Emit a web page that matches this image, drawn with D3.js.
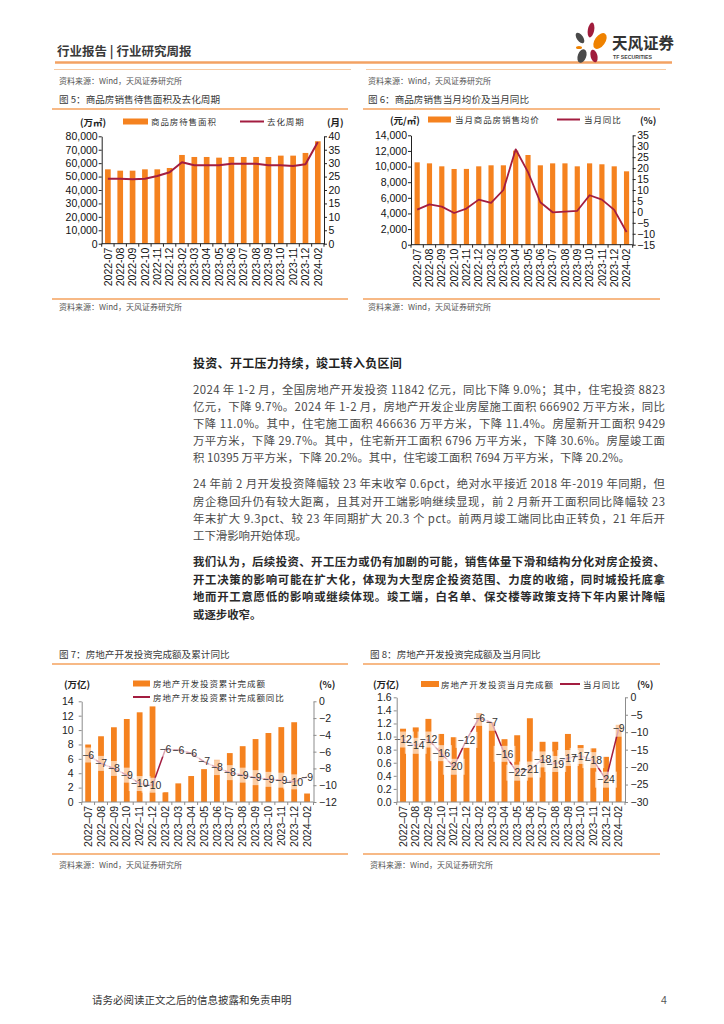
<!DOCTYPE html>
<html><head><meta charset="utf-8">
<script src="https://cdn.jsdelivr.net/npm/d3@7"></script>
<style>body{margin:0;background:#fff}svg{display:block}</style>
</head><body>
<svg id="page" width="724" height="1024"></svg>
<script>
// ---------- DATA ----------
const categories = ["2022-07","2022-08","2022-09","2022-10","2022-11","2022-12","2023-02","2023-03","2023-04","2023-05","2023-06","2023-07","2023-08","2023-09","2023-10","2023-11","2023-12","2024-02"];
// Fig 5
const unsoldArea = [55400,54400,54400,55400,55400,56400,66100,64600,64600,64100,64600,64600,64600,64600,65600,65600,67600,76300];
const destockMonths = [24.2,24.2,24.0,24.2,25.2,26.6,30.3,29.2,29.2,29.2,29.8,29.8,29.8,29.2,29.2,28.9,29.6,37.9];
const fig5LeftTicks = [0,10000,20000,30000,40000,50000,60000,70000,80000];
const fig5RightTicks = [0,5,10,15,20,25,30,35,40];
// Fig 6
const avgPrice = [10540,10410,10030,9690,9700,10030,10160,10160,12040,11480,10160,10410,10410,10030,10410,10290,10030,9390];
const priceYoY = [1.0,3.4,2.4,-0.5,1.5,5.6,4.1,10.0,28.6,18.2,4.4,-0.2,0.1,0.5,7.6,5.6,0.9,-9.2];
const fig6LeftTicks = [0,2000,4000,6000,8000,10000,12000,14000];
const fig6RightTicks = [-15,-10,-5,0,5,10,15,20,25,30,35];
// Fig 7
const cumInvest = [7.99,9.14,10.39,11.54,12.47,13.29,1.36,2.59,3.61,4.59,5.86,6.80,7.76,8.75,9.59,10.41,11.09,1.18];
const cumInvestYoY = [-6.4,-7.4,-8.0,-8.8,-9.8,-10.0,-5.7,-5.8,-6.2,-7.2,-7.9,-8.5,-8.8,-9.1,-9.3,-9.4,-9.6,-9.0];
const fig7LeftTicks = [0,2,4,6,8,10,12,14];
const fig7RightTicks = [-12,-10,-8,-6,-4,-2,0];
// Fig 8
const monthInvest = [1.12,1.14,1.27,1.04,0.99,0.83,1.36,1.22,0.96,1.02,1.28,0.92,0.92,1.04,0.87,0.82,0.69,1.18];
const monthInvestYoY = [-12.1,-13.9,-12.1,-16.0,-19.9,-12.2,-5.9,-7.3,-16.2,-21.6,-20.7,-17.8,-19.1,-17.4,-16.8,-18.0,-23.6,-9.0];
const fig8LeftTicks = [0,0.2,0.4,0.6,0.8,1.0,1.2,1.4,1.6];
const fig8RightTicks = [-30,-25,-20,-15,-10,-5,0];

// ---------- STYLE ----------
const svg = d3.select("#page");
const CJK = '"Noto Sans CJK SC","Noto Sans",sans-serif';
const LAT = '"Liberation Sans",Arial,sans-serif';
const ORANGE = "#f5821f";
const RED = "#a31d40";
const LINEOR = "#f5a25e";
const minus = s => String(s).replace("-", "\u2212");

svg.append("rect").attr("width",724).attr("height",1024).attr("fill","#fff");

function txt(x, y, s, o = {}) {
  const t = svg.append("text").attr("x", x).attr("y", y).text(s)
    .attr("font-family", o.ff || CJK).attr("font-size", o.fs || 10)
    .attr("fill", o.fill || "#333").attr("font-weight", o.fw || 400);
  if (o.anchor) t.attr("text-anchor", o.anchor);
  if (o.ls) t.attr("letter-spacing", o.ls);
  if (o.len) t.attr("textLength", o.len).attr("lengthAdjust", "spacing");
  return t;
}
function hline(x1, x2, y, c, w) {
  svg.append("line").attr("x1", x1).attr("x2", x2).attr("y1", y).attr("y2", y).attr("stroke", c).attr("stroke-width", w);
}

// ---------- HEADER ----------
txt(57, 56, "行业报告 | 行业研究周报", {fs: 12.5, fw: 700, fill: "#3a3a3a"});
hline(55, 672, 62.5, "#f3a263", 2.5);
// logo
const logo = svg.append("g");
logo.append("ellipse").attr("cx",580).attr("cy",38).attr("rx",3.2).attr("ry",6).attr("transform","rotate(-35 580 38)").attr("fill","#4a4a4a");
logo.append("ellipse").attr("cx",591).attr("cy",30).attr("rx",3.2).attr("ry",7.5).attr("transform","rotate(10 591 30)").attr("fill","#a01c3c");
logo.append("ellipse").attr("cx",600).attr("cy",41).attr("rx",5.2).attr("ry",9).attr("transform","rotate(35 600 41)").attr("fill","#ef8200");
logo.append("ellipse").attr("cx",579).attr("cy",47.5).attr("rx",3).attr("ry",1.6).attr("fill","#ef8200");
logo.append("ellipse").attr("cx",594).attr("cy",56).attr("rx",3.4).attr("ry",6.5).attr("transform","rotate(-15 594 56)").attr("fill","#a01c3c");
logo.append("ellipse").attr("cx",582).attr("cy",56).attr("rx",4.2).attr("ry",7).attr("transform","rotate(20 582 56)").attr("fill","#4a4a4a");
txt(612, 49, "天风证券", {fs: 15.5, fw: 700, fill: "#333"});
txt(613, 59, "TF SECURITIES", {fs: 5.2, ff: LAT, fw: 700, fill: "#444"});
hline(54, 351, 69.5, "#f8cba3", 1);
hline(366, 666, 69.5, "#f8cba3", 1);

// ---------- COMBO CHART ----------
function combo(o) {
  const g = svg.append("g");
  const x = d3.scaleBand().domain(categories).range([o.x0, o.x1]).paddingInner(o.pad).paddingOuter(o.pad / 2);
  const yL = d3.scaleLinear().domain(o.yLdom).range([o.y0, o.y1]);
  const yR = d3.scaleLinear().domain(o.yRdom).range([o.y0, o.y1]);
  const cx = c => x(c) + x.bandwidth() / 2;

  g.selectAll("rect.bar").data(o.bars).join("rect").attr("class","bar")
    .attr("x", (d, i) => x(categories[i])).attr("width", x.bandwidth())
    .attr("y", d => yL(d)).attr("height", d => yL(o.yLdom[0]) - yL(d)).attr("fill", ORANGE);

  const line = d3.line().x((d, i) => cx(categories[i])).y(d => yR(d));
  g.append("path").datum(o.line).attr("d", line).attr("fill", "none")
    .attr("stroke", RED).attr("stroke-width", o.lw).attr("stroke-linejoin", "round");

  if (o.labels) {
    const lg = g.append("g");
    o.line.forEach((v, i) => {
      const t = lg.append("text").attr("x", cx(categories[i])).attr("y", yR(v)).attr("dy", "0.35em")
        .attr("text-anchor", "middle").attr("font-family", LAT).attr("font-size", 10.5).attr("fill", "#333")
        .text(minus(Math.round(v)));
      const w = t.node().getComputedTextLength() + 4;
      lg.insert("rect", "text").attr("x", cx(categories[i]) - w / 2).attr("y", yR(v) - o.boxH / 2)
        .attr("width", w).attr("height", o.boxH).attr("fill", "#fff").attr("fill-opacity", 0.6);
    });
  }

  const styleAxis = (sel) => {
    sel.selectAll("path.domain").attr("stroke", o.axisColor);
    sel.selectAll(".tick line").attr("stroke", o.axisColor);
    sel.selectAll(".tick text").attr("font-family", LAT).attr("font-size", o.tickFs).attr("fill", o.tickColor);
  };
  g.append("g").attr("transform", `translate(${o.x0},0)`)
    .call(d3.axisLeft(yL).tickValues(o.yLticks).tickFormat(o.yLfmt).tickSize(o.tickLen).tickSizeOuter(0).tickPadding(o.padL))
    .call(styleAxis);
  g.append("g").attr("transform", `translate(${o.x1},0)`)
    .call(d3.axisRight(yR).tickValues(o.yRticks).tickFormat(o.yRfmt).tickSize(o.tickLen).tickSizeOuter(0).tickPadding(o.padR))
    .call(styleAxis);
  // bottom axis
  g.append("line").attr("x1", o.x0).attr("x2", o.x1).attr("y1", o.y0).attr("y2", o.y0).attr("stroke", o.axisColor);
  d3.range(categories.length + 1).forEach(i => {
    const bx = o.x0 + i * x.step();
    g.append("line").attr("x1", bx).attr("x2", bx).attr("y1", o.y0).attr("y2", o.y0 + 3).attr("stroke", o.axisColor);
  });
  categories.forEach(c => {
    g.append("text").attr("transform", `translate(${cx(c)},${o.y0 + 4}) rotate(-90)`)
      .attr("text-anchor", "end").attr("dy", "0.35em").attr("font-family", LAT)
      .attr("font-size", o.xFs).attr("fill", o.tickColor).text(o.xfmt(c));
  });
}

function panelText(x, yTopSrc, title, yTitle, yLine, lx1, lx2) {
  if (yTopSrc) txt(x, yTopSrc, "资料来源：Wind，天风证券研究所", {fs: 8, fill: "#555"});
  txt(x, yTitle, title, {fs: 9.6, fill: "#3a3a3a"});
  hline(lx1, lx2, yLine, LINEOR, 1.5);
}
function legendBar(x, y, w, h) { svg.append("rect").attr("x", x).attr("y", y).attr("width", w).attr("height", h).attr("fill", ORANGE); }
function legendLine(x1, x2, y) { hline(x1, x2, y, RED, 2); }
const LEG = {fs: 8.5, ls: 0.9, fill: "#333"};

// ---------- FIG 5 ----------
panelText(59, 84, "图 5：商品房销售待售面积及去化周期", 103, 109, 52, 348);
txt(80, 125.5, "(万㎡)", {fs: 9.5, fw: 700, fill: "#222"});
legendBar(123, 118.5, 25, 6);
txt(151, 125, "商品房待售面积", LEG);
legendLine(240, 264, 121.5);
txt(267, 125, "去化周期", LEG);
txt(327, 125.5, "(月)", {fs: 9.5, fw: 700, fill: "#222"});
combo({x0: 101.7, x1: 324, y0: 243.7, y1: 136.3, pad: 0.54,
  yLdom: [0, 80000], yRdom: [0, 40], bars: unsoldArea, line: destockMonths, lw: 2,
  yLticks: fig5LeftTicks, yRticks: fig5RightTicks, yLfmt: d3.format(","), yRfmt: d3.format("d"),
  axisColor: "#222", tickColor: "#111", tickFs: 10.5, tickLen: 3, padL: 1, padR: 1.5, xFs: 10.5, xfmt: d => d, labels: false});
hline(52, 348, 299, LINEOR, 1.5);
txt(59, 310, "资料来源：Wind，天风证券研究所", {fs: 8, fill: "#555"});

// ---------- FIG 6 ----------
panelText(368, 84, "图 6：商品房销售当月均价及当月同比", 103, 109, 363, 660);
txt(390, 123.5, "(元/㎡)", {fs: 9.5, fw: 700, fill: "#222"});
legendBar(428, 116.5, 23, 6);
txt(455, 123, "当月商品房销售均价", LEG);
legendLine(557, 580, 119.5);
txt(584, 123, "当月同比", LEG);
txt(640, 123.5, "(%)", {fs: 9.5, fw: 700, fill: "#222"});
combo({x0: 411, x1: 632.7, y0: 244.7, y1: 135.3, pad: 0.58,
  yLdom: [0, 14000], yRdom: [-15, 35], bars: avgPrice, line: priceYoY, lw: 1.8,
  yLticks: fig6LeftTicks, yRticks: fig6RightTicks, yLfmt: d3.format(","), yRfmt: d => minus(d3.format("d")(d).replace("\u2212","-")),
  axisColor: "#222", tickColor: "#111", tickFs: 10.5, tickLen: 3, padL: 1, padR: 1.5, xFs: 10.5, xfmt: d => d, labels: false});
hline(363, 660, 299, LINEOR, 1.5);
txt(368, 310, "资料来源：Wind，天风证券研究所", {fs: 8, fill: "#555"});

// ---------- TEXT BLOCK ----------
const TX = 193, TW = 472;
txt(TX, 368, "投资、开工压力持续，竣工转入负区间", {fs: 12, fw: 700, fill: "#222", ls: 0.3});
const p1 = [
  "2024 年 1-2 月，全国房地产开发投资 11842 亿元，同比下降 9.0%；其中，住宅投资 8823",
  "亿元，下降 9.7%。2024 年 1-2 月，房地产开发企业房屋施工面积 666902 万平方米，同比",
  "下降 11.0%。其中，住宅施工面积 466636 万平方米，下降 11.4%。房屋新开工面积 9429",
  "万平方米，下降 29.7%。其中，住宅新开工面积 6796 万平方米，下降 30.6%。房屋竣工面",
  "积 10395 万平方米，下降 20.2%。其中，住宅竣工面积 7694 万平方米，下降 20.2%。"];
p1.forEach((s, i) => txt(TX, 394.3 + i * 16.8, s, {fs: 11.4, fill: "#4a4a4a", len: i < 4 ? TW : 437}));
const p2 = [
  "24 年前 2 月开发投资降幅较 23 年末收窄 0.6pct，绝对水平接近 2018 年-2019 年同期，但",
  "房企稳回升仍有较大距离，且其对开工端影响继续显现，前 2 月新开工面积同比降幅较 23",
  "年末扩大 9.3pct、较 23 年同期扩大 20.3 个 pct。前两月竣工端同比由正转负，21 年后开",
  "工下滑影响开始体现。"];
p2.forEach((s, i) => txt(TX, 488.3 + i * 17.2, s, {fs: 11.4, fill: "#4a4a4a", len: i < 3 ? TW : null}));
const p3 = [
  "我们认为，后续投资、开工压力或仍有加剧的可能，销售体量下滑和结构分化对房企投资、",
  "开工决策的影响可能在扩大化，体现为大型房企投资范围、力度的收缩，同时城投托底拿",
  "地而开工意愿低的影响或继续体现。竣工端，白名单、保交楼等政策支持下年内累计降幅",
  "或逐步收窄。"];
p3.forEach((s, i) => txt(TX, 566 + i * 17.6, s, {fs: 11.4, fw: 700, fill: "#2a2a2a", len: i < 3 ? TW : null}));

// ---------- FIG 7 ----------
panelText(59, null, "图 7：房地产开发投资完成额及累计同比", 658, 664, 52, 348);
txt(64, 688, "(万亿)", {fs: 9.5, fw: 700, fill: "#222"});
legendBar(133, 680.5, 17, 6);
txt(153, 687, "房地产开发投资累计完成额", LEG);
legendLine(133, 150, 697);
txt(153, 700.5, "房地产开发投资累计完成额同比", LEG);
txt(319, 688, "(%)", {fs: 9.5, fw: 700, fill: "#222"});
combo({x0: 81.7, x1: 313.5, y0: 802, y1: 701.3, pad: 0.55,
  yLdom: [0, 14], yRdom: [-12, 0], bars: cumInvest, line: cumInvestYoY, lw: 1.5,
  yLticks: fig7LeftTicks, yRticks: fig7RightTicks, yLfmt: d3.format("d"), yRfmt: d3.format("d"),
  axisColor: "#8c8c8c", tickColor: "#222", tickFs: 10.5, tickLen: 3, padL: 5, padR: 2.5, xFs: 10.5,
  xfmt: d => d.replace("-", "\u2013"), labels: true, boxH: 15});
hline(52, 348, 854, LINEOR, 1.5);
txt(59, 867.5, "资料来源：Wind，天风证券研究所", {fs: 8, fill: "#555"});

// ---------- FIG 8 ----------
panelText(370, null, "图 8：房地产开发投资完成额及当月同比", 658, 664, 363, 660);
txt(373, 688, "(万亿)", {fs: 9.5, fw: 700, fill: "#222"});
legendBar(421, 681, 18, 6);
txt(441, 687.5, "房地产开发投资当月完成额", LEG);
legendLine(560, 580, 684);
txt(583, 687.5, "当月同比", LEG);
txt(637, 688, "(%)", {fs: 9.5, fw: 700, fill: "#222"});
combo({x0: 396.7, x1: 625, y0: 802, y1: 697.3, pad: 0.53,
  yLdom: [0, 1.6], yRdom: [-30, 0], bars: monthInvest, line: monthInvestYoY, lw: 1.5,
  yLticks: fig8LeftTicks, yRticks: fig8RightTicks, yLfmt: d3.format(".1f"), yRfmt: d3.format("d"),
  axisColor: "#8c8c8c", tickColor: "#222", tickFs: 10.5, tickLen: 3, padL: 2, padR: 2.5, xFs: 10.5,
  xfmt: d => d.replace("-", "\u2013"), labels: true, boxH: 16});
hline(363, 660, 854, LINEOR, 1.5);
txt(370, 867.5, "资料来源：Wind，天风证券研究所", {fs: 8, fill: "#555"});

// ---------- FOOTER ----------
txt(92, 1004, "请务必阅读正文之后的信息披露和免责申明", {fs: 10.5, fill: "#333"});
txt(661, 1004, "4", {fs: 10.5, ff: LAT, fill: "#555"});
</script>
</body></html>
